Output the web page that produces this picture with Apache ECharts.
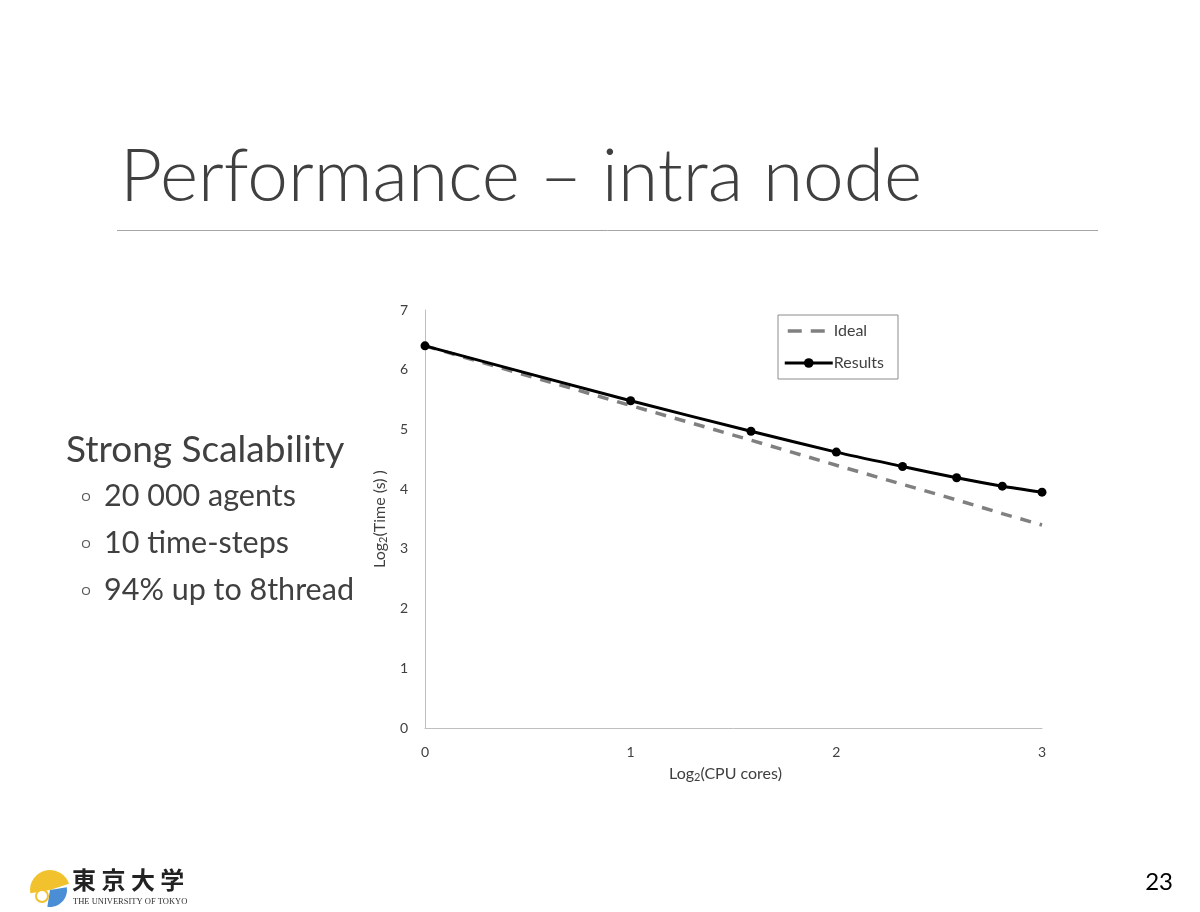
<!DOCTYPE html>
<html>
<head>
<meta charset="utf-8">
<script src="https://cdn.jsdelivr.net/npm/echarts@6/dist/echarts.min.js"></script>
<style>
html,body{margin:0;padding:0;background:#fff;}
#main{width:1200px;height:912px;}
</style>
</head>
<body>
<div id="main"></div>
<script>
// Data
var xValues = [0, 1, 1.585, 2, 2.322, 2.585, 2.807, 3];
var idealValues = [6.40, 5.40, 4.82, 4.40, 4.08, 3.82, 3.59, 3.40];
var resultValues = [6.40, 5.48, 4.97, 4.62, 4.38, 4.19, 4.05, 3.95];
var seriesNames = ['Ideal', 'Results'];
var titleText = 'Performance \u2013 intra node';
var bulletHead = 'Strong Scalability';
var bullets = ['20 000 agents', '10 time-steps', '94% up to 8thread'];
var pageNumber = '23';

function pairs(xs, ys) { return xs.map(function (x, i) { return [x, ys[i]]; }); }

var FONT = 'Lato, "Open Sans", sans-serif';
var chart = echarts.init(document.getElementById('main'), null, {renderer: 'canvas'});

var graphics = [
  {type: 'text', left: 120, top: 141, style: {text: titleText, font: '300 73px ' + FONT, fill: '#404040'}},
  {type: 'line', shape: {x1: 117, y1: 230.5, x2: 1098, y2: 230.5}, style: {stroke: '#a6a6a6', lineWidth: 1}},
  {type: 'text', left: 66, top: 432, style: {text: bulletHead, font: '37px ' + FONT, fill: '#404040'}},
  {type: 'text', right: 1200 - 1173, top: 870, style: {text: pageNumber, font: '24px ' + FONT, fill: '#000'}}
];
bullets.forEach(function (b, i) {
  var cy = 497 + i * 47;
  graphics.push({type: 'circle', shape: {cx: 86, cy: cy, r: 3.5}, style: {fill: 'none', stroke: '#595959', lineWidth: 1.2}});
  graphics.push({type: 'text', left: 104, top: cy - 16, style: {text: b, font: '30.5px ' + FONT, fill: '#404040'}});
});
// University logo (approximate)
graphics.push({type: 'sector', shape: {cx: 50, cy: 890, r0: 0, r: 20, startAngle: Math.PI * 0.95, endAngle: Math.PI * 1.9}, style: {fill: '#f2c12e'}});
graphics.push({type: 'sector', shape: {cx: 50, cy: 890, r0: 0, r: 17, startAngle: Math.PI * 1.95, endAngle: Math.PI * 2.55}, style: {fill: '#4a8fd6'}});
graphics.push({type: 'circle', shape: {cx: 42, cy: 896, r: 6}, style: {fill: '#fff', stroke: '#f2c12e', lineWidth: 2}});
graphics.push({type: 'text', left: 72, top: 868, style: {text: '東 京 大 学', font: 'bold 24px "Noto Sans CJK JP"', fill: '#222'}});
graphics.push({type: 'text', left: 73, top: 897, style: {text: 'THE UNIVERSITY OF TOKYO', font: '8.5px "Liberation Serif", serif', fill: '#333'}});

var option = {
  backgroundColor: '#fff',
  animation: false,
  graphic: graphics,
  legend: {
    orient: 'vertical',
    left: 778, top: 315,
    padding: [8, 14, 8, 5],
    itemGap: 16,
    itemWidth: 48, itemHeight: 12,
    borderColor: '#8c8c8c', borderWidth: 1,
    textStyle: {fontFamily: FONT, fontSize: 16, color: '#404040', padding: [0, 0, 0, -4]},
    data: [
      {name: seriesNames[0], itemStyle: {opacity: 0}, lineStyle: {width: 3.5, type: [14, 9], dashOffset: -3}},
      {name: seriesNames[1], lineStyle: {width: 3}}
    ]
  },
  grid: {left: 425, top: 310, right: 158, bottom: 184, containLabel: false},
  xAxis: {
    type: 'value', min: 0, max: 3, interval: 1,
    name: '{a|Log}{s|2}{a|(CPU cores)}', nameLocation: 'middle', nameGap: 37,
    nameTextStyle: {padding: [0, 16, 0, 0], rich: {a: {fontFamily: FONT, fontSize: 16, color: '#404040'}, s: {fontFamily: FONT, fontSize: 11, color: '#404040', verticalAlign: 'bottom', padding: [7, 0, 0, 0]}}},
    axisLine: {show: true, lineStyle: {color: '#bfbfbf', width: 1}},
    axisTick: {show: false},
    splitLine: {show: false},
    axisLabel: {fontFamily: FONT, fontSize: 14, color: '#404040', margin: 17}
  },
  yAxis: {
    type: 'value', min: 0, max: 7, interval: 1,
    name: '{a|Log}{s|2}{a|(Time (s) )}', nameLocation: 'middle', nameGap: 32,
    nameTextStyle: {rich: {a: {fontFamily: FONT, fontSize: 16, color: '#404040'}, s: {fontFamily: FONT, fontSize: 11, color: '#404040', verticalAlign: 'bottom', padding: [7, 0, 0, 0]}}},
    axisLine: {show: true, lineStyle: {color: '#bfbfbf', width: 1}},
    axisTick: {show: false},
    splitLine: {show: false},
    axisLabel: {fontFamily: FONT, fontSize: 14, color: '#404040', margin: 17}
  },
  series: [
    {
      name: seriesNames[0], type: 'line', data: pairs(xValues, idealValues),
      symbol: 'none', smooth: false,
      lineStyle: {color: '#808080', width: 3.5, type: [11, 9]},
      itemStyle: {color: '#808080'}, z: 2
    },
    {
      name: seriesNames[1], type: 'line', data: pairs(xValues, resultValues),
      symbol: 'circle', symbolSize: 9, smooth: 0.25,
      lineStyle: {color: '#000', width: 3},
      itemStyle: {color: '#000'}, z: 3
    }
  ]
};
chart.setOption(option);
</script>
</body>
</html>
